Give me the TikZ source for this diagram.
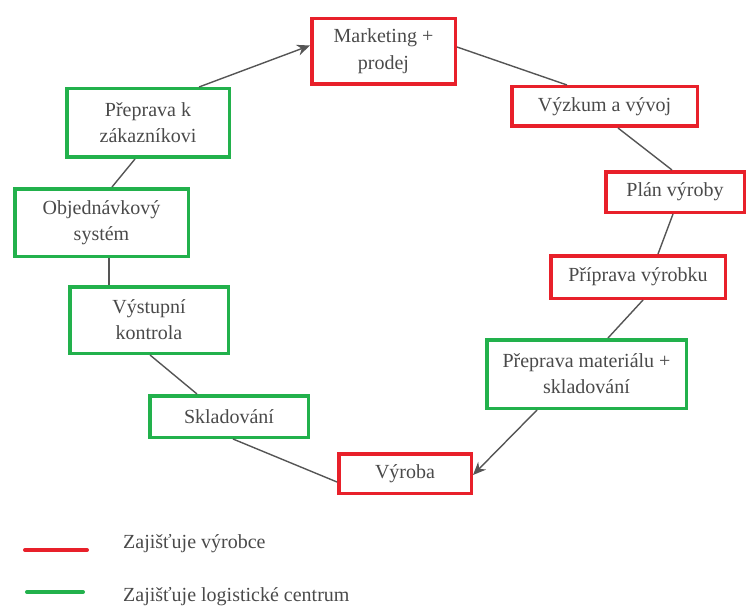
\documentclass[tikz,border=0pt]{standalone}
\usepackage{fontspec}
\setmainfont{Liberation Serif}
\usetikzlibrary{arrows.meta}
\definecolor{boxred}{HTML}{E8202A}
\definecolor{boxgreen}{HTML}{22B14C}
\definecolor{inkgray}{HTML}{4A4A4A}
\definecolor{wiregray}{HTML}{555555}
\begin{document}
\begin{tikzpicture}[x=1pt,y=-1pt,
  stage/.style={draw, line width=3.5pt, inner sep=0pt, align=center,
    text=inkgray, font=\fontsize{20}{26}\selectfont},
  maker/.style={stage, draw=boxred},
  logistic/.style={stage, draw=boxgreen},
  flow/.style={draw=wiregray, line width=1.4pt},
  tip/.style={-{Stealth[length=13pt,width=11pt]}},
  legendline/.style={line width=4pt, line cap=round},
  legendtext/.style={anchor=base west, text=inkgray, font=\fontsize{20}{24}\selectfont, inner sep=0pt}]
\useasboundingbox (0,0) rectangle (747,607);

% manufacturer stages
\node[maker, minimum width=143.5pt, minimum height=65.5pt] (mk) at (383.5,51.5) {Marketing +\\[1pt]prodej};
\node[maker, minimum width=185.5pt, minimum height=39.5pt] (vv) at (604.5,106.5) {Výzkum a vývoj};
\node[maker, minimum width=138.5pt, minimum height=40.5pt] (pv) at (675,192) {Plán výroby};
\node[maker, minimum width=174.5pt, minimum height=42.5pt] (pr) at (638,277) {Příprava výrobku};
\node[maker, minimum width=132.5pt, minimum height=39.5pt] (vy) at (405,473.5) {Výroba};

% logistics centre stages
\node[logistic, minimum width=199.5pt, minimum height=68.5pt] (pm) at (586.5,374) {Přeprava materiálu +\\skladování};
\node[logistic, minimum width=158.5pt, minimum height=41.5pt] (sk) at (229,416.5) {Skladování};
\node[logistic, minimum width=158.5pt, minimum height=66.5pt] (vk) at (149,320) {Výstupní\\kontrola};
\node[logistic, minimum width=173.5pt, minimum height=67.5pt] (ob) at (101.5,222.5) {Objednávkový\\systém};
\node[logistic, minimum width=162.5pt, minimum height=68.5pt] (pk) at (148,123) {Přeprava k\\zákazníkovi};

% process chain
\draw[flow, tip] ([xshift=51pt]pk.north) -- ([yshift=6pt]mk.west);
\draw[flow] ([yshift=4.5pt]mk.east) -- ([xshift=-37.5pt]vv.north);
\draw[flow] ([xshift=13.5pt]vv.south) -- ([xshift=-3pt]pv.north);
\draw[flow] ([xshift=-2pt]pv.south) -- ([xshift=20pt]pr.north);
\draw[flow] ([xshift=5pt]pr.south) -- ([xshift=21.5pt]pm.north);
\draw[flow, tip] ([xshift=-49.5pt]pm.south) -- ([yshift=-1.5pt]vy.east);
\draw[flow] ([xshift=4pt]sk.south) -- ([yshift=-8.5pt]vy.west);
\draw[flow] ([xshift=1pt]vk.south) -- ([xshift=-32pt]sk.north);
\draw[flow] ([xshift=-40pt]vk.north) -- ([xshift=7.5pt]ob.south);
\draw[flow] ([xshift=10.5pt]ob.north) -- ([xshift=-13pt]pk.south);

% legend
\coordinate (r1) at (25,550);
\coordinate (r2) at (87,550);
\coordinate (g1) at (27,592);
\coordinate (g2) at (83,592);
\draw[legendline, boxred] (r1) -- (r2);
\draw[legendline, boxgreen] (g1) -- (g2);
\node[legendtext] (lr) at (123,548) {Zajišťuje výrobce};
\node[legendtext] (lg) at (123,601) {Zajišťuje logistické centrum};
\end{tikzpicture}
\end{document}
